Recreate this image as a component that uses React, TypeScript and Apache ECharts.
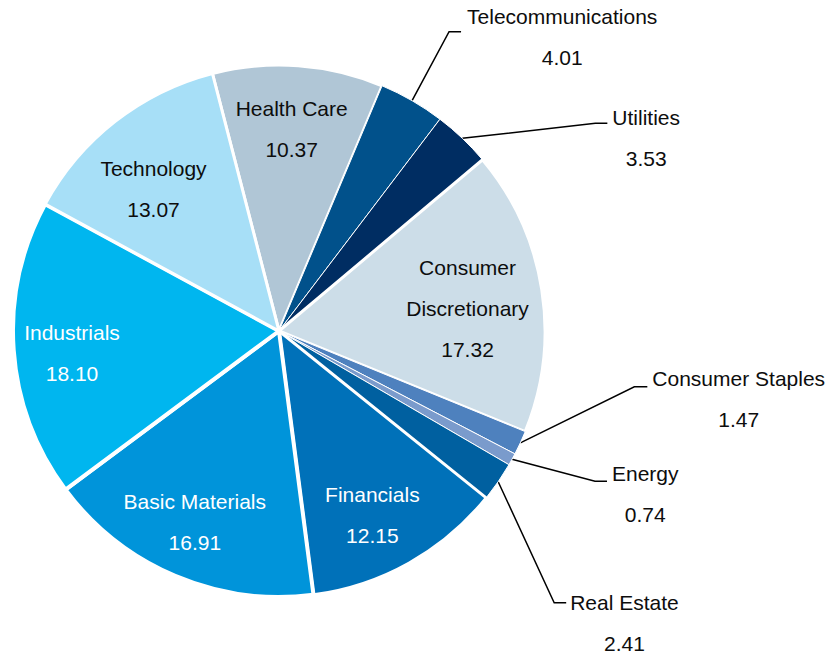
import React, { useEffect, useRef } from "react";
import * as echarts from "echarts";

// ---- data ----
const categories = [
  "Health Care",
  "Telecommunications",
  "Utilities",
  "Consumer Discretionary",
  "Consumer Staples",
  "Energy",
  "Real Estate",
  "Financials",
  "Basic Materials",
  "Industrials",
  "Technology",
];
const values = [10.37, 4.01, 3.53, 17.32, 1.47, 0.74, 2.41, 12.15, 16.91, 18.1, 13.07];
const displayNames = [
  "Health Care",
  "Telecommunications",
  "Utilities",
  "Consumer\nDiscretionary",
  "Consumer Staples",
  "Energy",
  "Real Estate",
  "Financials",
  "Basic Materials",
  "Industrials",
  "Technology",
];

// ---- styles ----
const colors = [
  "#B0C6D6",
  "#01518B",
  "#002D62",
  "#CCDDE8",
  "#4E81BE",
  "#7A9BCC",
  "#0060A0",
  "#0071B9",
  "#0094DA",
  "#00B6EF",
  "#A7DFF7",
];
const borderWidths = [3, 1, 1, 3, 1, 1, 1, 3, 4, 4, 3];
const whiteText = new Set(["Industrials", "Basic Materials", "Financials"]);

// outer label geometry relative to slice edge point (style only)
const outerLabelStyle: Record<string, { line: number[]; h: number; gap: number; top: number }> = {
  Telecommunications: { line: [49, -69], h: 12, gap: 6, top: -35.5 },
  Utilities: { line: [145, -15], h: 12, gap: 5, top: -26.5 },
  "Consumer Staples": { line: [127, -56], h: 13, gap: 5, top: -28.5 },
  Energy: { line: [95, 22], h: 12, gap: 5, top: -28.5 },
  "Real Estate": { line: [68, 121], h: 12, gap: 4, top: -20.5 },
};
// fine offsets of inside labels
const innerLabelShift: Record<string, number[]> = {
  "Health Care": [-2, 0],
  Technology: [-0.5, 18],
  Industrials: [-4.5, 8],
  "Basic Materials": [-5, 4],
  Financials: [-6, 7],
  "Consumer Discretionary": [-12, 9],
};

const FONT = "'Liberation Sans', Arial, sans-serif";
const FS = 21;
const LH = 41;
const TEXT_DARK = "#0d0d0d";

function fmt(i: number) {
  const lines = displayNames[i].split("\n").map((s) => `{n|${s}}`);
  return [...lines, `{v|${values[i].toFixed(2)}}`].join("\n");
}

export default function App() {
  const ref = useRef<HTMLDivElement>(null);
  useEffect(() => {
    if (!ref.current) return;
    const chart = echarts.init(ref.current, undefined, { renderer: "svg" });
    const center = [279, 331];
    const startAngle = 104.5;

    const mainData = categories.map((name, i) => ({
      name,
      value: values[i],
      itemStyle: { color: colors[i], borderColor: "#fff", borderWidth: borderWidths[i] },
      label: { show: !!outerLabelStyle[name] },
      labelLine: { show: !!outerLabelStyle[name] },
    }));
    const overlayData = categories.map((name, i) => {
      const c = whiteText.has(name) ? "#fff" : TEXT_DARK;
      return {
        name,
        value: values[i],
        label: {
          show: !!innerLabelShift[name],
          rich: {
            n: { fontSize: FS, lineHeight: LH, fontFamily: FONT, color: c, align: "center" },
            v: { fontSize: FS, lineHeight: LH, fontFamily: FONT, color: c, align: "center" },
          },
        },
      };
    });

    chart.setOption({
      animation: false,
      backgroundColor: "#fff",
      series: [
        {
          type: "pie",
          center,
          radius: 266,
          startAngle,
          clockwise: true,
          avoidLabelOverlap: false,
          silent: true,
          emphasis: { disabled: true },
          data: mainData,
          label: {
            position: "outside",
            formatter: (p: any) => fmt(p.dataIndex),
            rich: {
              n: { fontSize: FS, lineHeight: LH, fontFamily: FONT, color: TEXT_DARK, align: "center" },
              v: { fontSize: FS, lineHeight: LH, fontFamily: FONT, color: TEXT_DARK, align: "center" },
            },
          },
          labelLine: {
            length: 10,
            length2: 10,
            lineStyle: { color: "#000", width: 1.5 },
          },
          labelLayout: (params: any) => {
            const name = categories[params.dataIndex];
            const cfg = outerLabelStyle[name];
            if (!cfg || !params.labelLinePoints) return {};
            const p0 = params.labelLinePoints[0];
            const end = [p0[0] + cfg.line[0], p0[1] + cfg.line[1]];
            return {
              x: end[0] + cfg.gap,
              y: end[1] + cfg.top,
              align: "left",
              verticalAlign: "top",
              labelLinePoints: [p0, [end[0] - cfg.h, end[1]], end],
            };
          },
        },
        {
          type: "pie",
          center,
          radius: [135, 265],
          startAngle,
          clockwise: true,
          silent: true,
          avoidLabelOverlap: false,
          emphasis: { disabled: true },
          itemStyle: { color: "rgba(0,0,0,0)", borderWidth: 0 },
          label: {
            position: "inside",
            formatter: (p: any) => fmt(p.dataIndex),
          },
          labelLine: { show: false },
          data: overlayData,
          labelLayout: (params: any) => {
            const s = innerLabelShift[categories[params.dataIndex]];
            if (!s) return {};
            return { dx: s[0], dy: s[1] };
          },
        },
      ],
    });
    return () => chart.dispose();
  }, []);
  return (
    <div
      ref={ref}
      style={{ position: "fixed", left: 0, top: 0, width: 836, height: 659, background: "#fff" }}
    />
  );
}
